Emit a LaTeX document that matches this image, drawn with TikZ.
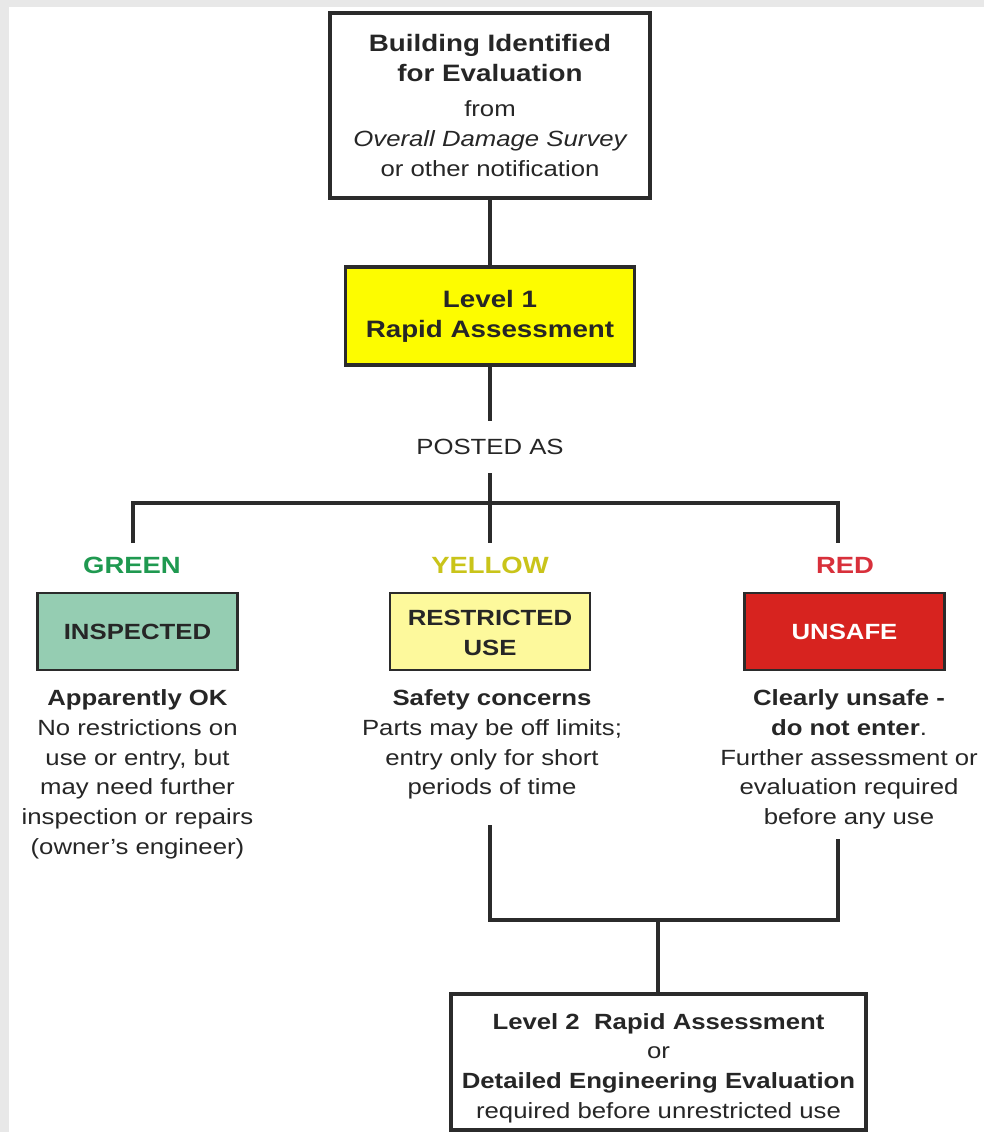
\documentclass[tikz,border=0pt]{standalone}
\usepackage{fontspec}
\newfontfamily\hv[FakeStretch=1.17]{Liberation Sans}
\definecolor{bgc}{HTML}{E8E8E8}
\definecolor{linec}{HTML}{2B2B2B}
\definecolor{txtc}{HTML}{262626}
\definecolor{lvlfill}{HTML}{FDFC00}
\definecolor{gfill}{HTML}{95CDB2}
\definecolor{yfill}{HTML}{FDF99C}
\definecolor{rfill}{HTML}{D7231F}
\definecolor{gtext}{HTML}{1F9950}
\definecolor{ytext}{HTML}{C9C41A}
\definecolor{rtext}{HTML}{D8303B}
\newcommand\mystrut{\rule{0pt}{16pt}}
\newcommand\bigb{\fontsize{17.8}{23.2}\selectfont\bfseries}
\begin{document}
\begin{tikzpicture}[x=0.75pt,y=-0.75pt,
  reg/.style={font=\hv\fontsize{16.5}{22.3}\selectfont, text=txtc, align=center, inner sep=0pt},
  box/.style={reg, draw=linec, line width=2.3pt},
  cbox/.style={reg, draw=linec, line width=1.9pt, minimum width=150pt, minimum height=57.75pt, font=\hv\fontsize{16.5}{22.3}\selectfont\bfseries},
  lab/.style={font=\hv\fontsize{17.6}{22}\selectfont\bfseries, inner sep=0pt},
  conn/.style={draw=linec, line width=2.3pt},
  desc/.style={reg, anchor=north}
]
\useasboundingbox (0,0) rectangle (984,1132);
\fill[bgc] (0,0) rectangle (984,1132);
\fill[white] (9,7) rectangle (984,1132);

% top box
\node[box, minimum width=240pt, minimum height=138.75pt] (top) at (490,105.5)
  {\bigb Building Identified\\\bigb for Evaluation\\[4pt] from\\ \itshape Overall Damage Survey\\ or other notification};
% level 1
\node[box, fill=lvlfill, minimum width=216.75pt, minimum height=73.5pt] (lvl1) at (490,316)
  {\bigb Level 1\\\bigb Rapid Assessment};
% posted as
\node[reg, inner ysep=13.5pt] (posted) at (490,447) {POSTED AS};

% labels
\node[lab, text=gtext] (gl) at (132,565) {GREEN};
\node[lab, text=ytext] (yl) at (490,565) {YELLOW};
\node[lab, text=rtext] (rl) at (845,565) {RED};

% coloured boxes
\node[cbox, fill=gfill] (gb) at (137.5,631.5) {INSPECTED};
\node[cbox, fill=yfill] (yb) at (490,631.5) {\rule{0pt}{14pt}RESTRICTED\\USE};
\node[cbox, fill=rfill, text=white] (rb) at (844.5,631.5) {UNSAFE};

% descriptions
\node[desc] (gd) at (137.5,684) {\mystrut\bfseries Apparently OK\\No restrictions on\\use or entry, but\\may need further\\inspection or repairs\\(owner’s engineer)};
\node[desc] (yd) at (492,684) {\mystrut\bfseries Safety concerns\\Parts may be off limits;\\entry only for short\\periods of time};
\node[desc] (rd) at (849,684) {\mystrut\bfseries Clearly unsafe -\\\textbf{do not enter}.\\Further assessment or\\evaluation required\\before any use};

% level 2
\node[box, minimum width=311.25pt, minimum height=102pt] (l2) at (658.5,1062)
  {\rule{0pt}{21pt}\bfseries Level 2~ Rapid Assessment\\or\\\bfseries Detailed Engineering Evaluation\\required before unrestricted use};

% connectors
\coordinate (jn) at (490,503);
\coordinate (gt) at (133,543);
\coordinate (yt) at (490,543);
\coordinate (rt) at (838,543);
\coordinate (ye) at (490,825);
\coordinate (re) at (838,839);
\coordinate (j2) at (658,920);

\draw[conn] (top.south) -- (lvl1.north);
\draw[conn] (lvl1.south) -- (posted.north);
\draw[conn] (posted.south) -- (yt);
\draw[conn] (gt) |- (jn) -| (rt);
\draw[conn] (ye) |- (j2) -| (re);
\draw[conn] (j2) -- (j2 |- l2.north);
\end{tikzpicture}
\end{document}
